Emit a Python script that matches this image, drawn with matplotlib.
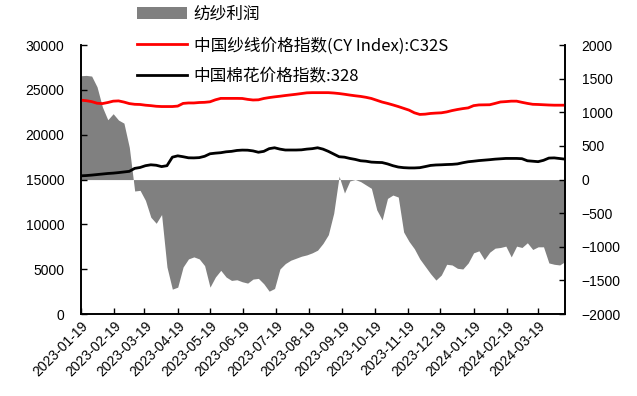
import matplotlib
matplotlib.use("Agg")

import matplotlib.dates as mdates
import matplotlib.pyplot as plt
import matplotlib.patches as mpatches
import matplotlib.lines as mlines
import numpy as np
import pandas as pd

plt.rcParams["font.family"] = ["Liberation Sans", "Noto Sans CJK SC", "DejaVu Sans"]
plt.rcParams["axes.unicode_minus"] = True

# five-day samples starting 2023-01-19
dates = pd.date_range("2023-01-19", periods=91, freq="5D")

profit = [
    1545, 1550, 1540, 1380, 1080, 890, 980, 885, 840, 480,
    -170, -160, -310, -560, -650, -520, -1300, -1630, -1600, -1300,
    -1180, -1150, -1180, -1280, -1600, -1450, -1350, -1450, -1500, -1490,
    -1520, -1540, -1480, -1470, -1550, -1660, -1620, -1330, -1250, -1200,
    -1170, -1140, -1120, -1090, -1050, -950, -820, -500, 50, -200,
    -20, 0, -30, -80, -130, -450, -600, -280, -230, -260,
    -780, -920, -1030, -1180, -1290, -1400, -1495, -1420, -1260, -1270,
    -1320, -1330, -1240, -1090, -1060, -1190, -1080, -1020, -1010, -990,
    -1150, -990, -1010, -940, -1040, -1000, -1000, -1240, -1260, -1270,
    -1220,
]

yarn_c32s = [
    23860, 23800, 23700, 23520, 23480, 23600, 23750, 23780, 23650, 23480,
    23400, 23380, 23300, 23250, 23180, 23150, 23150, 23150, 23200, 23500,
    23550, 23550, 23600, 23620, 23680, 23900, 24060, 24060, 24060, 24060,
    24050, 23950, 23880, 23900, 24050, 24150, 24230, 24300, 24380, 24450,
    24520, 24600, 24680, 24700, 24700, 24700, 24700, 24660, 24600, 24520,
    24430, 24350, 24280, 24180, 24050, 23850, 23650, 23500, 23330, 23150,
    22950, 22750, 22450, 22270, 22300, 22380, 22420, 22450, 22550, 22700,
    22820, 22920, 23000, 23250, 23330, 23340, 23350, 23500, 23660, 23700,
    23750, 23750, 23620, 23500, 23400, 23380, 23350, 23320, 23300, 23300,
    23300,
]

cotton_328 = [
    15420, 15450, 15500, 15560, 15620, 15680, 15720, 15780, 15850, 15920,
    16250, 16350, 16550, 16650, 16600, 16450, 16550, 17500, 17650, 17550,
    17430, 17420, 17450, 17600, 17880, 17950, 18000, 18100, 18150, 18250,
    18290, 18280, 18200, 18050, 18150, 18450, 18550, 18400, 18300, 18300,
    18300, 18320, 18400, 18450, 18550, 18400, 18150, 17850, 17550, 17500,
    17360, 17250, 17100, 17050, 16950, 16920, 16900, 16750, 16550, 16400,
    16330, 16300, 16300, 16330, 16450, 16580, 16630, 16650, 16680, 16700,
    16750, 16880, 16990, 17050, 17120, 17170, 17220, 17280, 17320, 17360,
    17360, 17360, 17330, 17100, 17050, 17000, 17150, 17400, 17420, 17350,
    17280,
]

# ticks on the 19th of every month
tick_dates = pd.date_range("2023-01-01", "2024-03-01", freq="MS") + pd.Timedelta(days=18)

fig = plt.figure(figsize=(6.37, 3.96), dpi=100)
ax = fig.add_axes([0.127, 0.207, 0.76, 0.679])
ax2 = ax.twinx()

# profit area sits behind the price lines
ax2.fill_between(dates, 0, profit, color="#808080", linewidth=0)
ax.set_zorder(ax2.get_zorder() + 1)
ax.patch.set_visible(False)

ax.plot(dates, yarn_c32s, color="#ff0000", linewidth=2)
ax.plot(dates, cotton_328, color="#000000", linewidth=2)

ax.set_ylim(0, 30000)
ax.set_yticks(np.arange(0, 30001, 5000))
ax2.set_ylim(-2000, 2000)
ax2.set_yticks(np.arange(-2000, 2001, 500))
ax.set_xlim(dates[0], dates[-1])
ax.set_xticks(tick_dates)
ax.xaxis.set_major_formatter(mdates.DateFormatter("%Y-%m-%d"))

for a in (ax, ax2):
    a.spines["top"].set_visible(False)
    a.tick_params(direction="in", labelsize=10, length=4, width=1)
    for s in a.spines.values():
        s.set_linewidth(1.2)
ax.tick_params(axis="y", pad=12)
ax2.tick_params(axis="y", pad=12)
plt.setp(ax.get_xticklabels(), rotation=45, ha="right", rotation_mode="anchor")

handles = [
    mpatches.Patch(color="#808080", linewidth=0),
    mlines.Line2D([], [], color="#ff0000", linewidth=2),
    mlines.Line2D([], [], color="#000000", linewidth=2),
]
labels = ["纺纱利润", "中国纱线价格指数(CY Index):C32S", "中国棉花价格指数:328"]
fig.legend(handles, labels, loc="upper left", bbox_to_anchor=(0.211, 0.992),
           frameon=False, handlelength=3.0, handleheight=0.8,
           labelspacing=0.85, handletextpad=0.4, borderaxespad=0.0,
           borderpad=0.15,
           prop={"family": ["Noto Sans CJK SC", "DejaVu Sans"], "size": 12})

fig.savefig("out.png", dpi=100)
